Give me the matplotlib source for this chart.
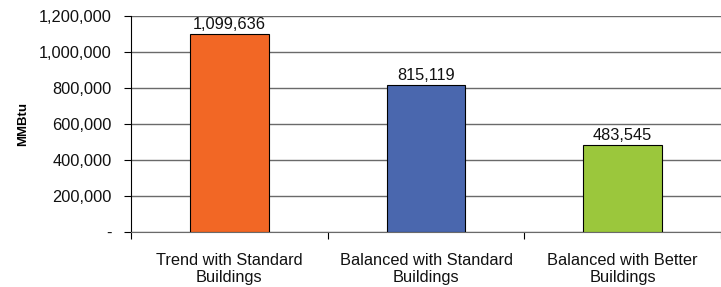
import numpy as np
import matplotlib.pyplot as plt
from matplotlib.ticker import FuncFormatter

plt.rcParams['font.family'] = ['Liberation Sans', 'DejaVu Sans']

categories = ['Trend with Standard\nBuildings', 'Balanced with Standard\nBuildings',
              'Balanced with Better\nBuildings']
values = [1099636, 815119, 483545]
colors = ['#F26725', '#4A67AE', '#9BC73C']

fig = plt.figure(figsize=(7.21, 2.87), dpi=100)
ax = fig.add_axes([131 / 721, (287 - 232) / 287, 590 / 721, 216 / 287])

x = np.arange(len(values))
ax.bar(x, values, width=0.4, color=colors, edgecolor='black', linewidth=0.8, zorder=3)
for xi, v in zip(x, values):
    ax.text(xi, v + 12000, f'{v:,}', ha='center', va='bottom', fontsize=11.8, color='#111111')

ax.set_xlim(-0.5, len(values) - 0.5)
ax.set_ylim(0, 1200000)
ax.set_yticks(np.arange(0, 1200001, 200000))
ax.yaxis.set_major_formatter(FuncFormatter(lambda v, p: '-' if v == 0 else f'{int(v):,}'))
ax.yaxis.grid(True, color='#6a6a6a', linewidth=1.0, zorder=0)
ax.set_ylabel('MMBtu', fontsize=9.5, fontweight='bold', labelpad=7)

ax.set_xticks(x)
ax.set_xticklabels(categories, fontsize=11.8, color='#111111')
ax.tick_params(axis='x', length=0, pad=15)
ax.set_xticks(np.arange(-0.5, len(values)), minor=True)
ax.tick_params(axis='x', which='minor', length=5, width=0.8)
ax.tick_params(axis='y', length=5, width=0.8, labelsize=11.8, pad=9, labelcolor='#111111')

for s in ['top', 'right']:
    ax.spines[s].set_visible(False)
ax.spines['left'].set_color('black')
ax.spines['bottom'].set_color('#6a6a6a')

fig.savefig('out.png', dpi=100)
